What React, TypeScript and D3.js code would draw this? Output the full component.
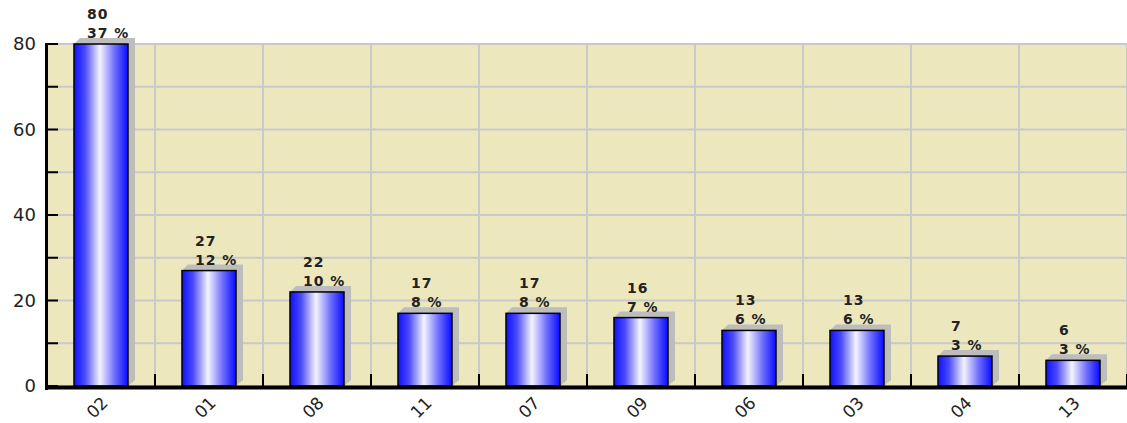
import React from "react";
import * as d3 from "d3";

const categories = ["02", "01", "08", "11", "07", "09", "06", "03", "04", "13"];
const values = [80, 27, 22, 17, 17, 16, 13, 13, 7, 6];
const percents = ["37 %", "12 %", "10 %", "8 %", "8 %", "7 %", "6 %", "6 %", "3 %", "3 %"];
const yTickLabels = [0, 20, 40, 60, 80];
const yMinorTicks = [0, 10, 20, 30, 40, 50, 60, 70, 80];

const W = 1127;
const H = 423;
const left = 47;
const right = 1127;
const top = 44;
const bottom = 386;

export default function App() {
  const x = d3
    .scaleBand<string>()
    .domain(categories)
    .range([left, right])
    .paddingInner(0.5)
    .paddingOuter(0.25);
  const y = d3.scaleLinear().domain([0, 80]).range([bottom, top]);
  const step = x.step();
  const bounds = d3.range(categories.length + 1).map((i) => left + i * step);
  const font = "'DejaVu Sans', Verdana, sans-serif";

  return (
    <svg
      width={W}
      height={H}
      style={{ position: "absolute", left: 0, top: 0, display: "block" }}
    >
      <defs>
        <linearGradient id="barGrad" x1="0" x2="1" y1="0" y2="0">
          <stop offset="0%" stopColor="#1010ff" />
          <stop offset="20%" stopColor="#4848ff" />
          <stop offset="48%" stopColor="#f4f4ff" />
          <stop offset="75%" stopColor="#7070ff" />
          <stop offset="100%" stopColor="#0a0aff" />
        </linearGradient>
      </defs>
      <rect x={left} y={top} width={right - left} height={bottom - top} fill="#EDE7BE" />
      {yMinorTicks.map((t) => (
        <line
          key={"hg" + t}
          x1={left}
          x2={right}
          y1={y(t)}
          y2={y(t)}
          stroke="#C9C9C9"
          strokeWidth={2}
        />
      ))}
      {bounds.slice(1).map((b, i) => (
        <line key={"vg" + i} x1={b} x2={b} y1={top} y2={bottom} stroke="#C9C9C9" strokeWidth={2} />
      ))}
      {categories.map((c, i) => {
        const x0 = x(c)!;
        const x1 = x0 + x.bandwidth();
        const yt = y(values[i]);
        const d = 6;
        const shadow = [
          [x0, yt],
          [x0 + d, yt - d],
          [x1 + d + 1, yt - d],
          [x1 + d + 1, bottom - d],
          [x1, bottom],
        ]
          .map((p) => p.join(","))
          .join(" ");
        return (
          <g key={c}>
            <polygon points={shadow} fill="#BDBDBD" />
            <rect
              x={x0}
              y={yt}
              width={x.bandwidth()}
              height={bottom - yt}
              fill="url(#barGrad)"
              stroke="#000"
              strokeWidth={1.5}
            />
            <text
              x={x0 + 13}
              y={yt - 25}
              fontFamily={font}
              fontWeight="bold"
              fontSize={14}
              letterSpacing={1}
              fill="#222"
            >
              {values[i]}
            </text>
            <text
              x={x0 + 13}
              y={yt - 6}
              fontFamily={font}
              fontWeight="bold"
              fontSize={14}
              letterSpacing={1}
              fill="#222"
            >
              {percents[i]}
            </text>
          </g>
        );
      })}
      {yMinorTicks.map((t) => (
        <line key={"yt" + t} x1={left} x2={left + 11} y1={y(t)} y2={y(t)} stroke="#000" strokeWidth={2} />
      ))}
      {bounds.map((b, i) => (
        <line key={"xt" + i} x1={b} x2={b} y1={bottom} y2={bottom - 12} stroke="#000" strokeWidth={2} />
      ))}
      <line x1={46.5} x2={46.5} y1={top - 1} y2={bottom + 4} stroke="#000" strokeWidth={3} />
      <line x1={45} x2={right} y1={bottom + 1.5} y2={bottom + 1.5} stroke="#000" strokeWidth={4} />
      {yTickLabels.map((t) => (
        <text
          key={"yl" + t}
          x={36}
          y={y(t)}
          dy="0.36em"
          textAnchor="end"
          fontFamily={font}
          fontSize={18}
          fill="#222"
        >
          {t}
        </text>
      ))}
      {categories.map((c) => {
        const cx = x(c)! + x.bandwidth() / 2 + 8;
        const cy = 404;
        return (
          <text
            key={"xl" + c}
            x={cx}
            y={cy}
            transform={`rotate(-45 ${cx} ${cy})`}
            textAnchor="end"
            fontFamily={font}
            fontSize={17}
            fill="#222"
          >
            {c}
          </text>
        );
      })}
    </svg>
  );
}
